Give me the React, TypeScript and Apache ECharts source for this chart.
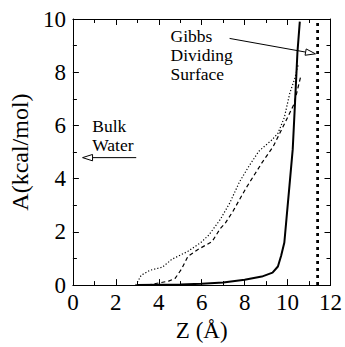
import React, { useEffect, useRef } from "react";
import * as echarts from "echarts";

const xTickMin = 0;
const xTickMax = 12;
const xTickStep = 2;
const yTickMin = 0;
const yTickMax = 10;
const yTickStep = 2;

const solidX = [3.0, 5.0, 6.0, 7.0, 8.0, 8.8, 9.3, 9.55, 9.7, 9.85, 9.95, 10.09, 10.24, 10.35, 10.46, 10.57];
const solidY = [0, 0.02, 0.05, 0.1, 0.2, 0.32, 0.47, 0.7, 1.1, 1.6, 2.5, 3.75, 5.1, 6.9, 8.75, 9.9];

const dashedX = [3.48, 3.8, 4.46, 4.76, 5.06, 5.36, 5.81, 6.49, 6.86, 7.1, 7.46, 8.06, 8.81, 9.34, 9.56, 10.0, 10.3, 10.45, 10.6];
const dashedY = [0, 0.05, 0.15, 0.25, 0.6, 1.08, 1.33, 1.64, 2.12, 2.33, 2.78, 3.64, 4.6, 5.22, 5.58, 6.3, 6.8, 7.3, 7.8];

const dottedX = [2.93, 3.18, 3.6, 4.16, 4.61, 5.36, 5.96, 6.33, 6.86, 7.31, 7.76, 8.2, 8.66, 9.26, 9.55, 9.85, 10.1, 10.35, 10.5];
const dottedY = [0, 0.37, 0.56, 0.67, 0.97, 1.27, 1.6, 1.88, 2.46, 3.09, 3.88, 4.47, 5.03, 5.45, 5.7, 6.3, 7.2, 7.8, 8.3];

const gibbsX = 11.4;
const gibbsLineY = [0, 10];

const gibbsLines = ["Gibbs", "Dividing", "Surface"];
const gibbsLabelPos = [4.55, 9.7];
const gibbsArrowFrom = [7.3, 9.27];
const gibbsArrowTo = [11.3, 8.69];

const bulkLines = ["Bulk", "Water"];
const bulkLabelPos = [0.9, 6.3];
const bulkArrowFrom = [2.95, 4.79];
const bulkArrowTo = [0.45, 4.79];

const zip = (xs: number[], ys: number[]) => xs.map((x, i) => [x, ys[i]]);

export default function App() {
  const ref = useRef<HTMLDivElement>(null);
  useEffect(() => {
    const chart = echarts.init(ref.current!, null, { renderer: "svg" });
    const font = "Liberation Serif";
    const line = { color: "#000", width: 1 };
    const baseX = {
      type: "value",
      min: xTickMin,
      max: xTickMax,
      interval: xTickStep,
      axisLine: { show: true, onZero: false, lineStyle: line },
      axisTick: { show: true, inside: true, length: 6, lineStyle: line },
      minorTick: { show: true, splitNumber: 2, length: 4, lineStyle: line },
      splitLine: { show: false },
      minorSplitLine: { show: false },
    };
    const baseY = {
      type: "value",
      min: yTickMin,
      max: yTickMax,
      interval: yTickStep,
      axisLine: { show: true, onZero: false, lineStyle: line },
      axisTick: { show: true, inside: true, length: 6, lineStyle: line },
      minorTick: { show: true, splitNumber: 2, length: 4, lineStyle: line },
      splitLine: { show: false },
      minorSplitLine: { show: false },
    };
    chart.setOption({
      animation: false,
      backgroundColor: "#fff",
      grid: { left: 67, right: 11.5, top: 19, bottom: 53.5, containLabel: false },
      xAxis: [
        {
          ...baseX,
          position: "bottom",
          axisLabel: { color: "#000", fontFamily: font, fontSize: 23, margin: 6 },
          name: "Z (Å)",
          nameLocation: "middle",
          nameGap: 32,
          nameTextStyle: { color: "#000", fontFamily: font, fontSize: 23 },
        },
        { ...baseX, position: "top", axisLabel: { show: false } },
      ],
      yAxis: [
        {
          ...baseY,
          position: "left",
          axisLabel: { color: "#000", fontFamily: font, fontSize: 23, margin: 7 },
          name: "A(kcal/mol)",
          nameLocation: "middle",
          nameGap: 34,
          nameTextStyle: { color: "#000", fontFamily: font, fontSize: 24 },
        },
        { ...baseY, position: "right", axisLabel: { show: false } },
      ],
      series: [
        {
          type: "line",
          data: zip(solidX, solidY),
          showSymbol: false,
          lineStyle: { color: "#000", width: 2 },
        },
        {
          type: "line",
          data: zip(dashedX, dashedY),
          showSymbol: false,
          lineStyle: { color: "#000", width: 1.2, type: [4, 3] },
        },
        {
          type: "line",
          data: zip(dottedX, dottedY),
          showSymbol: false,
          lineStyle: { color: "#000", width: 1.2, type: [1.2, 2] },
        },
        {
          type: "line",
          data: gibbsLineY.map((y) => [gibbsX, y]),
          showSymbol: false,
          lineStyle: { color: "#000", width: 2.8, type: [3, 4] },
        },
      ],
    });

    const toPx = (p: number[]) => chart.convertToPixel({ xAxisIndex: 0, yAxisIndex: 0 }, p) as number[];
    const arrow = (from: number[], to: number[]) => {
      const a = toPx(from);
      const b = toPx(to);
      const dx = b[0] - a[0];
      const dy = b[1] - a[1];
      const len = Math.hypot(dx, dy);
      const ux = dx / len;
      const uy = dy / len;
      const hl = 10;
      const hw = 3.2;
      const bx = b[0] - ux * hl;
      const by = b[1] - uy * hl;
      return [
        {
          type: "line",
          shape: { x1: a[0], y1: a[1], x2: bx, y2: by },
          style: { stroke: "#000", lineWidth: 1 },
        },
        {
          type: "polygon",
          shape: {
            points: [
              [b[0], b[1]],
              [bx - uy * hw, by + ux * hw],
              [bx + uy * hw, by - ux * hw],
            ],
          },
          style: { fill: "#fff", stroke: "#000", lineWidth: 1 },
        },
      ];
    };
    const textLines = (lines: string[], pos: number[]) => {
      const p = toPx(pos);
      return lines.map((t, i) => ({
        type: "text",
        x: p[0],
        y: p[1] + i * 19,
        style: {
          text: t,
          fontFamily: font,
          fontSize: 17.5,
          fill: "#000",
          align: "left",
          verticalAlign: "top",
        },
      }));
    };
    chart.setOption({
      graphic: [
        ...textLines(gibbsLines, gibbsLabelPos),
        ...arrow(gibbsArrowFrom, gibbsArrowTo),
        ...textLines(bulkLines, bulkLabelPos),
        ...arrow(bulkArrowFrom, bulkArrowTo),
      ],
    });
    return () => chart.dispose();
  }, []);
  return <div ref={ref} style={{ position: "fixed", left: 0, top: 0, width: 345, height: 347 }} />;
}
